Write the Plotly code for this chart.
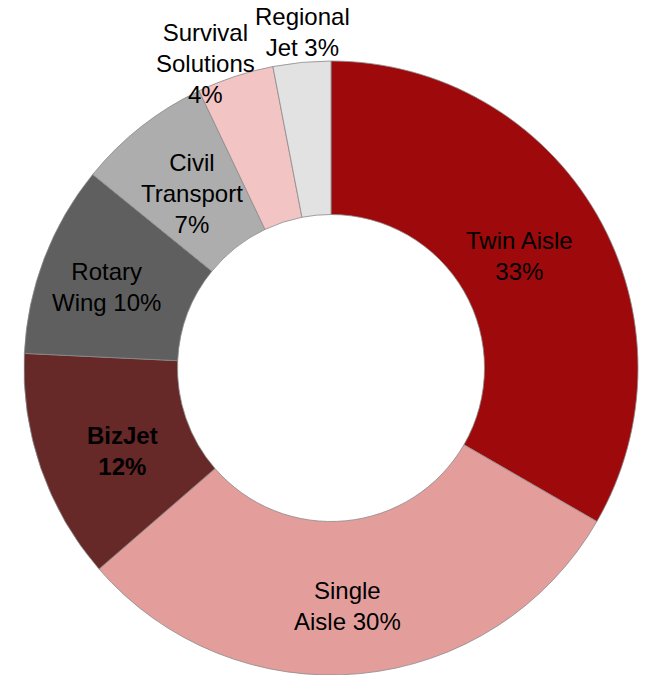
import math
import plotly.graph_objects as go

categories = ["Twin Aisle", "Single Aisle", "BizJet", "Rotary Wing",
              "Civil Transport", "Survival Solutions", "Regional Jet"]
values = [33, 30, 12, 10, 7, 4, 3]
label_templates = ["Twin Aisle<br>{p}%", "Single<br>Aisle {p}%", "<b>BizJet</b><br><b>{p}%</b>",
                   "Rotary<br>Wing {p}%", "Civil<br>Transport<br>{p}%",
                   "Survival<br>Solutions<br>{p}%", "Regional<br>Jet {p}%"]
colors = ["#9E0A0B", "#E39E9C", "#672828", "#5F5F5F", "#ADADAD", "#F2C4C4", "#E2E2E2"]
# label placement style: radius fraction and angular nudge (degrees)
label_radius = [0.713, 0.777, 0.730, 0.779, 0.727, 1.071, 1.098]
label_nudge = [-0.8, 1.6, -2.65, -1.0, -0.3, -4.2, 0.6]

W, H = 647, 675
cx, cy, R = 331, 368, 307

fig = go.Figure(go.Pie(
    labels=categories, values=values, hole=0.5, sort=False,
    direction="clockwise", rotation=0,
    marker=dict(colors=colors, line=dict(color="#8a8a8a", width=0.8)),
    textinfo="none", hoverinfo="label+percent", showlegend=False,
    domain=dict(x=[(cx - R) / W, (cx + R) / W], y=[(H - cy - R) / H, (H - cy + R) / H]),
))

total = sum(values)
cum = 0
annotations = []
for v, tpl, rf, nd in zip(values, label_templates, label_radius, label_nudge):
    theta = 2 * math.pi * (cum + v / 2) / total + math.radians(nd)
    cum += v
    xp = cx + rf * R * math.sin(theta)
    yp = cy - rf * R * math.cos(theta)
    annotations.append(dict(
        x=xp / W, y=1 - yp / H, xref="paper", yref="paper",
        text=tpl.format(p=v), showarrow=False, xanchor="center", yanchor="middle",
        font=dict(family="Arial, Liberation Sans, sans-serif", size=24, color="#000000"),
    ))

fig.update_layout(
    width=W, height=H, margin=dict(l=0, r=0, t=0, b=0),
    paper_bgcolor="white", plot_bgcolor="white",
    annotations=annotations,
)
fig.write_html("out.html", config={"displayModeBar": False},
               post_script="document.body.style.margin='0';document.body.style.overflow='hidden';")
